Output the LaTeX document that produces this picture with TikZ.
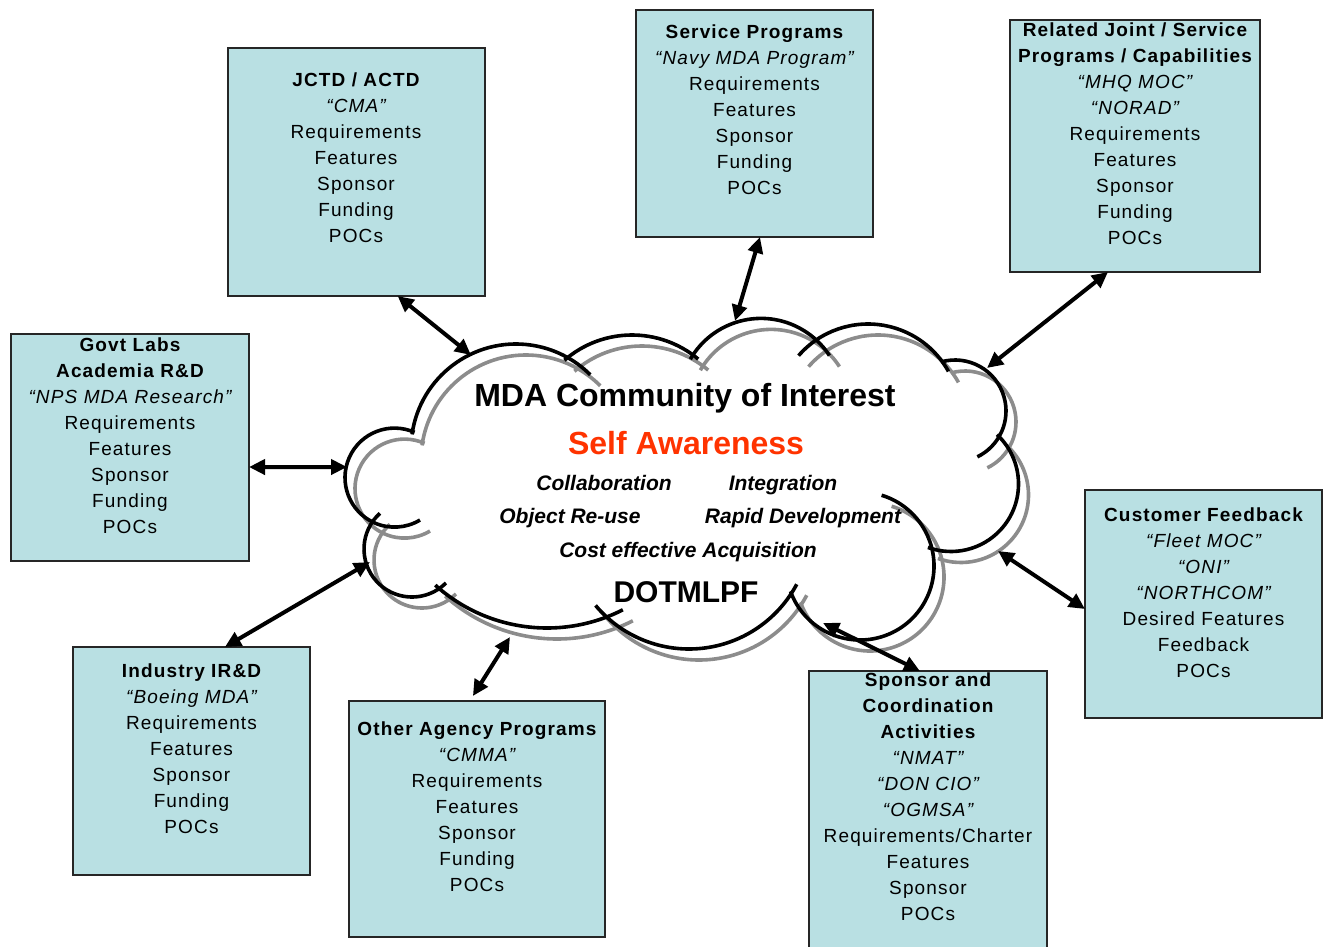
\documentclass[tikz,border=0pt]{standalone}
\usepackage{fontspec}
\setmainfont{Liberation Sans}
\newfontfamily\boxfont[LetterSpace=6]{Liberation Sans}
\usetikzlibrary{arrows.meta,calc}
\definecolor{boxblue}{RGB}{185,224,227}
\definecolor{shadowgray}{RGB}{140,140,140}
\definecolor{selfred}{RGB}{255,51,0}
\newcommand\cldarc[4]{\draw ([shift={(#3:#2)}]#1) arc[start angle=#3,end angle=#4,radius=#2];}
\newcommand\cloudarcs{%
 \cldarc{516,-449}{105}{172}{45}%
 \cldarc{632,-438}{103}{131}{50}%
 \cldarc{761,-400}{81.6}{150}{33}%
 \cldarc{868,-416}{92}{139}{29}%
 \cldarc{955,-411}{51}{106}{-64}%
 \cldarc{951,-484}{67.5}{47}{-110}%
 \cldarc{860,-566}{74}{200}{433}%
 \cldarc{689,-527}{122}{220}{332}%
 \cldarc{547,-461}{167}{228}{297}%
 \cldarc{412,-549}{48}{132}{315}%
 \cldarc{394.5,-477.6}{49.5}{66}{301}%
}
\tikzset{
 box/.style={draw=black!85, line width=1.4pt, fill=boxblue, inner sep=0pt, outer sep=0pt},
 boxtext/.style={font=\boxfont\fontsize{19}{26}\selectfont, align=center, anchor=north, inner sep=0pt},
 cloudbig/.style={font=\bfseries\fontsize{32}{36}\selectfont, anchor=base, inner sep=0pt},
 cloudsmall/.style={font=\bfseries\itshape\fontsize{21}{24}\selectfont, anchor=base, inner sep=0pt},
 arr/.style={line width=4pt, {Triangle[length=16pt,width=15pt]}-{Triangle[length=16pt,width=15pt]}}
}
\begin{document}
\begin{tikzpicture}[x=1pt,y=1pt]
\useasboundingbox (0,0) rectangle (1325,-947);
% cloud
\begin{scope}[shift={(10,-11)}, shadowgray, line width=3.6pt]
\cloudarcs
\end{scope}
\begin{scope}[black, line width=3.6pt]
\cloudarcs
\end{scope}
\node[cloudbig] (t1) at (685,-406) {MDA Community of Interest};
\node[cloudbig, text=selfred] (t2) at (686,-454) {Self Awareness};
\node[cloudsmall] (t3) at (604,-490) {Collaboration};
\node[cloudsmall] (t4) at (783,-490) {Integration};
\node[cloudsmall] (t5) at (570,-523) {Object Re-use};
\node[cloudsmall] (t6) at (803,-523) {Rapid Development};
\node[cloudsmall] (t7) at (688,-557) {Cost effective Acquisition};
\node[cloudbig, font=\bfseries\fontsize{30}{34}\selectfont] (t8) at (686,-602) {DOTMLPF};
% boxes
\node[box, minimum width=257pt, minimum height=248pt] (jctd) at (356.5,-172) {};
\node[box, minimum width=237pt, minimum height=227pt] (serv) at (754.5,-123.5) {};
\node[box, minimum width=250pt, minimum height=252pt] (rel) at (1135,-146) {};
\node[box, minimum width=238pt, minimum height=227pt] (govt) at (130,-447.5) {};
\node[box, minimum width=237pt, minimum height=228pt] (cust) at (1203.5,-604) {};
\node[box, minimum width=237pt, minimum height=228pt] (ind) at (191.5,-761) {};
\node[box, minimum width=256pt, minimum height=236pt] (oth) at (477,-819) {};
\node[box, minimum width=238pt, minimum height=278pt] (spon) at (928,-810) {};
\node[boxtext] (jctdT) at (356,-73) {{\bfseries JCTD / ACTD}\\{\itshape “CMA”}\\Requirements\\Features\\Sponsor\\Funding\\POCs};
\node[boxtext] (servT) at (754.5,-25) {{\bfseries Service Programs}\\{\itshape “Navy MDA Program”}\\Requirements\\Features\\Sponsor\\Funding\\POCs};
\node[boxtext] (relT) at (1135,-23) {{\bfseries Related Joint / Service}\\{\bfseries Programs / Capabilities}\\{\itshape “MHQ MOC”}\\{\itshape “NORAD”}\\Requirements\\Features\\Sponsor\\Funding\\POCs};
\node[boxtext] (govtT) at (130,-338) {{\bfseries Govt Labs}\\{\bfseries Academia R\&D}\\{\itshape “NPS MDA Research”}\\Requirements\\Features\\Sponsor\\Funding\\POCs};
\node[boxtext] (custT) at (1203.5,-508) {{\bfseries Customer Feedback}\\{\itshape “Fleet MOC”}\\{\itshape “ONI”}\\{\itshape “NORTHCOM”}\\Desired Features\\Feedback\\POCs};
\node[boxtext] (indT) at (191.5,-664) {{\bfseries Industry IR\&D}\\{\itshape “Boeing MDA”}\\Requirements\\Features\\Sponsor\\Funding\\POCs};
\node[boxtext] (othT) at (477,-722) {{\bfseries Other Agency Programs}\\{\itshape “CMMA”}\\Requirements\\Features\\Sponsor\\Funding\\POCs};
\node[boxtext] (sponT) at (928,-673) {{\bfseries Sponsor and}\\{\bfseries Coordination}\\{\bfseries Activities}\\{\itshape “NMAT”}\\{\itshape “DON CIO”}\\{\itshape “OGMSA”}\\Requirements/Charter\\Features\\Sponsor\\POCs};
% cloud contact points
\coordinate (c1) at (471,-355);
\coordinate (c2) at (735,-321);
\coordinate (c3) at (987,-368);
\coordinate (c4) at (347,-467);
\coordinate (c5) at (998,-551);
\coordinate (c6) at (370,-562);
\coordinate (c7) at (510,-637);
\coordinate (c8) at (823,-623);
% arrows
\draw[arr] ($(jctd.south west)!0.66!(jctd.south east)$) -- (c1);
\draw[arr] ($(serv.south west)!0.523!(serv.south east)$) -- (c2);
\draw[arr] ($(rel.south west)!0.392!(rel.south east)$) -- (c3);
\draw[arr] ($(govt.north east)!0.586!(govt.south east)$) -- (c4);
\draw[arr] ($(cust.north west)!0.522!(cust.south west)$) -- (c5);
\draw[arr] ($(ind.north west)!0.641!(ind.north east)$) -- (c6);
\draw[arr] ($(oth.north west)!0.484!(oth.north east)+(0,5)$) -- (c7);
\draw[arr] ($(spon.north west)!0.466!(spon.north east)$) -- (c8);
\end{tikzpicture}
\end{document}
